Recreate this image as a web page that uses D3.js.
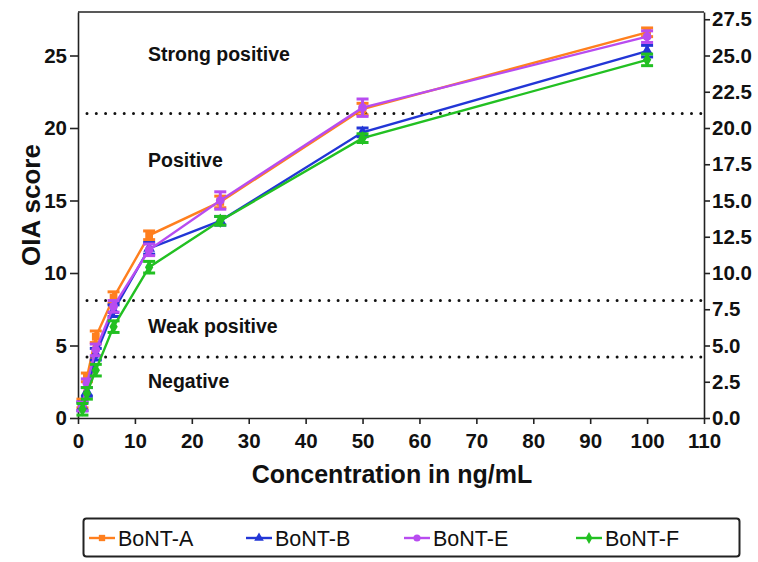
<!DOCTYPE html>
<html>
<head>
<meta charset="utf-8">
<script src="https://cdn.jsdelivr.net/npm/d3@7"></script>
<style>
body{margin:0;background:#fff;}
text{font-family:"Liberation Sans",Arial,sans-serif;}
</style>
</head>
<body>
<svg id="chart" width="758" height="562"></svg>
<script>
var concentrations=[0.78,1.56,3.125,6.25,12.5,25,50,100];
var seriesNames=["BoNT-A","BoNT-B","BoNT-E","BoNT-F"];
var bontA=[1.0,2.8,5.6,8.3,12.6,14.9,21.3,26.6];
var bontB=[0.8,1.8,4.4,7.4,11.7,13.6,19.7,25.3];
var bontE=[0.8,2.4,4.7,7.7,11.6,15.0,21.4,26.3];
var bontF=[0.6,1.7,3.3,6.3,10.4,13.6,19.3,24.7];
var errA=[0.3,0.3,0.4,0.4,0.3,0.4,0.4,0.3];
var errB=[0.3,0.3,0.4,0.4,0.4,0.3,0.3,0.4];
var errE=[0.3,0.3,0.4,0.4,0.4,0.6,0.6,0.4];
var errF=[0.4,0.4,0.4,0.4,0.4,0.3,0.3,0.4];
var thresholds=[21,8.1,4.2];
var zoneLabels=["Strong positive","Positive","Weak positive","Negative"];
var zoneLabelY=[24.6,17.3,5.85,2.05];
var xTicks=d3.range(0,111,10);
var yTicksLeft=d3.range(0,26,5);
var yTicksRight=d3.range(0,27.6,2.5);

var colors=["#ff7f1e","#2236d6","#b84cf0","#22c022"];
var symbols=[d3.symbolSquare,d3.symbolTriangle,d3.symbolCircle,d3.symbolDiamond];
var allValues=[bontA,bontB,bontE,bontF];
var allErrors=[errA,errB,errE,errF];

var plotLeft=78,plotRight=704,plotTop=12,plotBottom=418;

var svg=d3.select("#chart");

var xScale=d3.scaleLinear().domain([0,110]).range([plotLeft,plotRight]);
var yScale=d3.scaleLinear().domain([0,28]).range([plotBottom,plotTop]);

// frame top line
svg.append("line")
	.attr("x1",plotLeft).attr("x2",plotRight)
	.attr("y1",plotTop).attr("y2",plotTop)
	.attr("stroke","#222").attr("stroke-width",1.6);

// dotted thresholds
svg.selectAll(".thr")
	.data(thresholds)
	.enter()
	.append("line")
	.classed("thr",true)
	.attr("x1",plotLeft+9).attr("x2",plotRight)
	.attr("y1",d=>yScale(d)).attr("y2",d=>yScale(d))
	.attr("stroke","#111")
	.attr("stroke-width",3)
	.attr("stroke-linecap","round")
	.attr("stroke-dasharray","0,9.3");

svg.selectAll(".zone")
	.data(zoneLabels)
	.enter()
	.append("text")
	.classed("zone",true)
	.attr("x",xScale(12.3))
	.attr("y",(d,i)=>yScale(zoneLabelY[i]))
	.attr("font-size","19.5px")
	.attr("font-weight","bold")
	.attr("fill","#111")
	.text(d=>d);

// axes
var xAxis=d3.axisBottom(xScale).tickValues(xTicks).tickSize(6).tickPadding(9).tickSizeOuter(0);
var yAxisL=d3.axisLeft(yScale).tickValues(yTicksLeft).tickSize(8).tickPadding(3).tickSizeOuter(0);
var yAxisR=d3.axisRight(yScale).tickValues(yTicksRight).tickFormat(d3.format(".1f")).tickSize(6).tickPadding(2).tickSizeOuter(0);

function styleAxis(g){
	g.select(".domain").attr("stroke","#222").attr("stroke-width",1.6);
	g.selectAll(".tick line").attr("stroke","#222").attr("stroke-width",1.6);
	g.selectAll(".tick text")
		.attr("font-family","'Liberation Sans',Arial,sans-serif")
		.attr("font-size","20.5px").attr("font-weight","bold").attr("fill","#111");
}

svg.append("g")
	.attr("transform","translate(0,"+plotBottom+")")
	.call(xAxis)
	.call(styleAxis);

svg.append("g")
	.attr("transform","translate("+plotLeft+",0)")
	.call(yAxisL)
	.call(styleAxis);

svg.append("g")
	.attr("transform","translate("+plotRight+",0)")
	.call(yAxisR)
	.call(styleAxis);

svg.append("text")
	.attr("transform","translate(31,205) rotate(-90)")
	.attr("text-anchor","middle")
	.attr("dy","0.35em")
	.attr("font-size","26px")
	.attr("font-weight","bold")
	.attr("fill","#111")
	.text("OIA score");

svg.append("text")
	.attr("x",(plotLeft+plotRight)/2+1)
	.attr("y",483)
	.attr("text-anchor","middle")
	.attr("font-size","25px")
	.attr("font-weight","bold")
	.attr("fill","#111")
	.text("Concentration in ng/mL");

// series
var line=d3.line()
	.x(d=>xScale(d.x))
	.y(d=>yScale(d.y));

seriesNames.forEach((name,s)=>{
	let pts=concentrations.map((c,i)=>({x:c,y:allValues[s][i],e:allErrors[s][i]}));
	let g=svg.append("g").classed("series",true);

	g.append("path")
		.datum(pts)
		.attr("d",line)
		.attr("fill","none")
		.attr("stroke",colors[s])
		.attr("stroke-width",2.4);

	let eb=g.selectAll(".err")
		.data(pts)
		.enter()
		.append("g")
		.classed("err",true)
		.attr("stroke",colors[s])
		.attr("stroke-width",3);

	eb.append("line")
		.attr("x1",d=>xScale(d.x)).attr("x2",d=>xScale(d.x))
		.attr("y1",d=>yScale(d.y-d.e)).attr("y2",d=>yScale(d.y+d.e));
	eb.append("line")
		.attr("x1",d=>xScale(d.x)-6).attr("x2",d=>xScale(d.x)+6)
		.attr("y1",d=>yScale(d.y+d.e)).attr("y2",d=>yScale(d.y+d.e));
	eb.append("line")
		.attr("x1",d=>xScale(d.x)-6).attr("x2",d=>xScale(d.x)+6)
		.attr("y1",d=>yScale(d.y-d.e)).attr("y2",d=>yScale(d.y-d.e));

	g.selectAll(".pt")
		.data(pts)
		.enter()
		.append("path")
		.classed("pt",true)
		.attr("transform",d=>"translate("+xScale(d.x)+","+yScale(d.y)+")")
		.attr("d",d3.symbol().type(symbols[s]).size(60))
		.attr("fill",colors[s]);
});

// legend
var legend=svg.append("g");
legend.append("rect")
	.attr("x",83.5).attr("y",518.5)
	.attr("width",656).attr("height",38)
	.attr("rx",3)
	.attr("fill","#fff")
	.attr("stroke","#222")
	.attr("stroke-width",2);

var legendX=[89,246,404,576];
var items=legend.selectAll(".item")
	.data(seriesNames)
	.enter()
	.append("g")
	.classed("item",true)
	.attr("transform",(d,i)=>"translate("+legendX[i]+",538)");

items.append("line")
	.attr("x1",0).attr("x2",26)
	.attr("stroke",(d,i)=>colors[i])
	.attr("stroke-width",2.4);
items.append("path")
	.attr("transform","translate(13,0)")
	.attr("d",(d,i)=>d3.symbol().type(symbols[i]).size(40)())
	.attr("fill",(d,i)=>colors[i]);
items.append("text")
	.attr("x",29)
	.attr("y",8)
	.attr("font-size","21.5px")
	.attr("fill","#111")
	.text(d=>d);
</script>
</body>
</html>
